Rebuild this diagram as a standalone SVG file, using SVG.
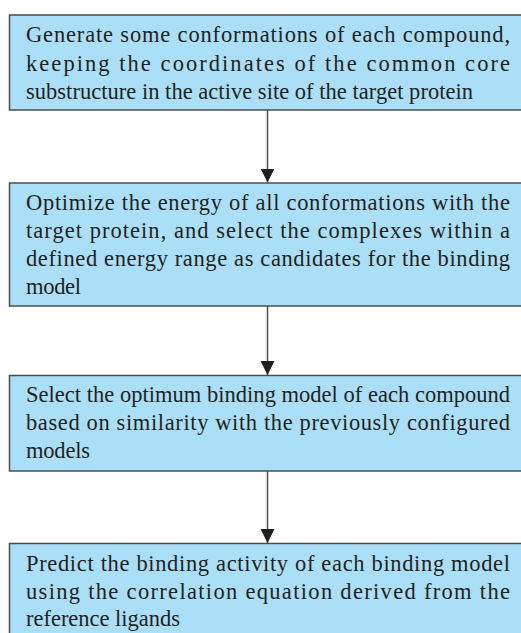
<svg xmlns="http://www.w3.org/2000/svg" width="521" height="633" viewBox="0 0 521 633">
<defs>
<style>
.box{fill:#aadff7;stroke:#4d4d4d;stroke-width:1.5}
.t{font-family:"Liberation Serif",serif;font-size:22.5px;fill:#231f20}
.c{stroke:#4d4d4d;stroke-width:1.5;fill:none}
</style>
<marker id="ah" markerWidth="14" markerHeight="14" viewBox="0 0 14 14" refX="14" refY="7" orient="auto" markerUnits="userSpaceOnUse">
<path d="M0,0 L14,7 L0,14 Z" fill="#231f20"/>
</marker>
</defs>
<rect width="521" height="633" fill="#ffffff"/>
<g id="connectors">
<line class="c" x1="267.5" y1="110" x2="267.5" y2="182.5" marker-end="url(#ah)"/>
<line class="c" x1="267.5" y1="306" x2="267.5" y2="375" marker-end="url(#ah)"/>
<line class="c" x1="267.5" y1="471" x2="267.5" y2="543" marker-end="url(#ah)"/>
</g>
<g id="node1">
<rect class="box" x="9.5" y="15" width="520" height="95"/>
<text class="t" x="26" y="42" textLength="484" lengthAdjust="spacing">Generate some conformations of each compound,</text>
<text class="t" x="26" y="71" textLength="484" lengthAdjust="spacing">keeping the coordinates of the common core</text>
<text class="t" x="26" y="98.5" textLength="447" lengthAdjust="spacing">substructure in the active site of the target protein</text>
</g>
<g id="node2">
<rect class="box" x="9.5" y="183" width="520" height="123"/>
<text class="t" x="26" y="209.5" textLength="484" lengthAdjust="spacing">Optimize the energy of all conformations with the</text>
<text class="t" x="26" y="238" textLength="484" lengthAdjust="spacing">target protein, and select the complexes within a</text>
<text class="t" x="26" y="266" textLength="484" lengthAdjust="spacing">defined energy range as candidates for the binding</text>
<text class="t" x="26" y="294" textLength="55" lengthAdjust="spacing">model</text>
</g>
<g id="node3">
<rect class="box" x="9.5" y="375.5" width="520" height="95.5"/>
<text class="t" x="26" y="402" textLength="484" lengthAdjust="spacing">Select the optimum binding model of each compound</text>
<text class="t" x="26" y="430" textLength="484" lengthAdjust="spacing">based on similarity with the previously configured</text>
<text class="t" x="26" y="458" textLength="64" lengthAdjust="spacing">models</text>
</g>
<g id="node4">
<rect class="box" x="9.5" y="543.5" width="520" height="100"/>
<text class="t" x="26" y="571" textLength="484" lengthAdjust="spacing">Predict the binding activity of each binding model</text>
<text class="t" x="26" y="598.5" textLength="484" lengthAdjust="spacing">using the correlation equation derived from the</text>
<text class="t" x="26" y="626" textLength="154" lengthAdjust="spacing">reference ligands</text>
</g>
</svg>
